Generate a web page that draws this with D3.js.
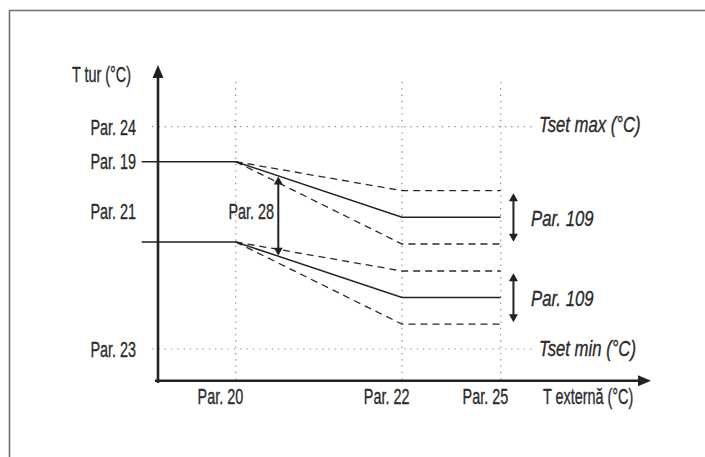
<!DOCTYPE html>
<html><head><meta charset="utf-8">
<script src="https://cdn.jsdelivr.net/npm/d3@7"></script>
<style>html,body{margin:0;padding:0;background:#fff;}svg{display:block;}</style>
</head><body>
<svg id="c" width="705" height="457"></svg>
<script>
// ---- data (schematic units) ----
const xTickLabels = ["Par. 20", "Par. 22", "Par. 25"];
const xTickValues = [15.76, 49.49, 69.51];
const yTickLabels = ["Par. 24", "Par. 19", "Par. 21", "Par. 23"];
const yTickValues = [80.46, 69.37, 53.5, 10.04];
const solidX = [-3.31, 15.76, 49.49, 69.51];
const upperSolid = [69.37, 69.37, 51.76, 51.76];
const lowerSolid = [43.94, 43.94, 26.35, 26.35];
const dashX = [15.76, 49.49, 69.51];
const upperDashHigh = [69.37, 60.18, 60.18];
const upperDashLow = [69.37, 43.3, 43.3];
const lowerDashHigh = [43.94, 34.75, 34.75];
const lowerDashLow = [43.94, 17.9, 17.9];
const tsetLabels = ["Tset max (°C)", "Tset min (°C)"];
const par28X = 24.4;
const par109X = 72.1;
const axisTitles = ["T tur (°C)", "T externă (°C)"];

const svg = d3.select("#c");
const x = d3.scaleLinear().domain([0, 100]).range([158, 651]);
const y = d3.scaleLinear().domain([0, 100]).range([380.7, 65]);

const ink = "#222";
const dotC = "#8a8a8a";

// frame
svg.append("path").attr("d", "M9.5,457V10.5H705").attr("fill", "none")
  .attr("stroke", "#707070").attr("stroke-width", 1.6);

// dotted guides
xTickValues.forEach(v => {
  svg.append("line").attr("x1", x(v)).attr("x2", x(v)).attr("y1", y(94.6)).attr("y2", y(0))
    .attr("stroke", dotC).attr("stroke-width", 1.2).attr("stroke-dasharray", "1.3,5");
});
[yTickValues[0], yTickValues[3]].forEach(v => {
  svg.append("line").attr("x1", x(-1.2)).attr("x2", x(75.9)).attr("y1", y(v)).attr("y2", y(v))
    .attr("stroke", dotC).attr("stroke-width", 1.2).attr("stroke-dasharray", "1.3,5");
});

// lines
const solidLine = d3.line().x((d, i) => x(solidX[i])).y(d => y(d));
const dashLine = d3.line().x((d, i) => x(dashX[i])).y(d => y(d));
[upperDashHigh, upperDashLow, lowerDashHigh, lowerDashLow].forEach(s => {
  svg.append("path").attr("d", dashLine(s)).attr("fill", "none").attr("stroke", "#2a2a2a")
    .attr("stroke-width", 1.3).attr("stroke-dasharray", "7,5");
});
[upperSolid, lowerSolid].forEach(s => {
  svg.append("path").attr("d", solidLine(s)).attr("fill", "none").attr("stroke", ink)
    .attr("stroke-width", 1.5);
});

// axes
svg.append("line").attr("x1", x(0)).attr("x2", x(0)).attr("y1", 383).attr("y2", y(97))
  .attr("stroke", ink).attr("stroke-width", 2.6);
svg.append("path").attr("d", `M${x(0)},${y(100)}L${x(0)-5.5},${y(100)+13}L${x(0)+5.5},${y(100)+13}Z`).attr("fill", ink);
svg.append("line").attr("x1", 155).attr("x2", x(98)).attr("y1", y(0)).attr("y2", y(0))
  .attr("stroke", ink).attr("stroke-width", 2.6);
svg.append("path").attr("d", `M${x(100)},${y(0)}L${x(100)-13},${y(0)-5.5}L${x(100)-13},${y(0)+5.5}Z`).attr("fill", ink);

// double arrows
function dArrow(px, y1, y2) {
  const h = 8, w = 4.5;
  svg.append("line").attr("x1", px).attr("x2", px).attr("y1", y1 + h - 1).attr("y2", y2 - h + 1)
    .attr("stroke", ink).attr("stroke-width", 2);
  svg.append("path").attr("d", `M${px},${y1}L${px-w},${y1+h}L${px+w},${y1+h}Z`).attr("fill", ink);
  svg.append("path").attr("d", `M${px},${y2}L${px-w},${y2-h}L${px+w},${y2-h}Z`).attr("fill", ink);
}
const interp = (xs, ys, v) => {
  for (let i = 0; i < xs.length - 1; i++) {
    if (v >= xs[i] && v <= xs[i+1]) { const t = (v - xs[i]) / (xs[i+1] - xs[i]); return ys[i] + t * (ys[i+1] - ys[i]); }
  }
  return ys[ys.length - 1];
};
dArrow(x(par28X), y(interp(solidX, upperSolid, par28X)) + 0.5, y(interp(solidX, lowerSolid, par28X)) - 0.5);
dArrow(x(par109X), y(upperDashHigh[2]) + 2.6, y(upperDashLow[2]) - 2.3);
dArrow(x(par109X), y(lowerDashHigh[2]) + 2.3, y(lowerDashLow[2]) - 1.9);

// text helper
function label(txt, px, py, anchor, italic) {
  const g = svg.append("g").attr("transform", `translate(${px},${py}) scale(${italic ? 0.76 : 0.655},1)`);
  g.append("text").text(txt).attr("text-anchor", anchor)
    .attr("font-family", "'Liberation Sans', Arial, sans-serif").attr("font-size", 22)
    .attr("font-style", italic ? "italic" : "normal").attr("fill", "#2b2b2b")
    .attr("stroke", "#2b2b2b").attr("stroke-width", 0.35);
}
const yBase = [134.5, 168.5, 219, 356.5];
yTickLabels.forEach((t, i) => label(t, 136, yBase[i], "end", false));
xTickLabels.forEach((t, i) => label(t, x(xTickValues[i]) + 7.5, 404, "end", false));
label(axisTitles[0], 131, 82, "end", false);
label(axisTitles[1], 543, 404, "start", false);
label("Par. 28", 274, 219, "end", false);
label(tsetLabels[0], 539, 132.3, "start", true);
label(tsetLabels[1], 539, 356, "start", true);
label("Par. 109", 531, 226, "start", true);
label("Par. 109", 531, 306, "start", true);
</script>
</body></html>
